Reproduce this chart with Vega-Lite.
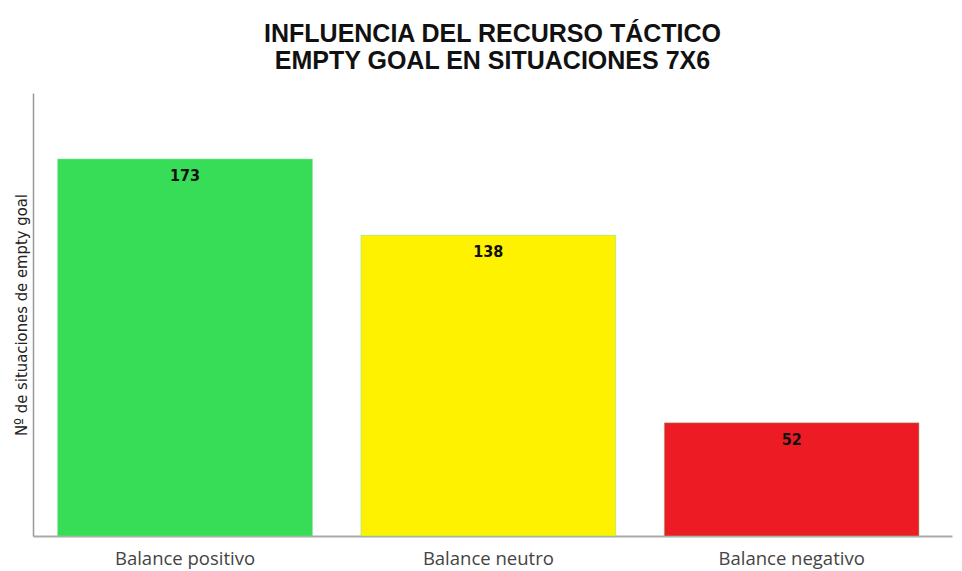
{
  "$schema": "https://vega.github.io/schema/vega-lite/v6.json",
  "width": 919,
  "height": 443,
  "autosize": "none",
  "padding": {"left": 33, "top": 93, "right": 10, "bottom": 35},
  "background": "white",
  "config": {"view": {"stroke": null}},
  "title": {
    "text": ["INFLUENCIA DEL RECURSO TÁCTICO", "EMPTY GOAL EN SITUACIONES 7X6"],
    "font": "Liberation Sans",
    "fontSize": 25,
    "fontWeight": "bold",
    "color": "#111111",
    "anchor": "middle",
    "lineHeight": 27,
    "offset": 19
  },
  "data": {
    "values": [
      {"categoria": "Balance positivo", "valor": 173},
      {"categoria": "Balance neutro", "valor": 138},
      {"categoria": "Balance negativo", "valor": 52}
    ]
  },
  "encoding": {
    "x": {
      "field": "categoria",
      "type": "nominal",
      "sort": null,
      "scale": {"paddingInner": 0.16, "paddingOuter": 0.095, "align": 0.428},
      "axis": {
        "title": null,
        "labelAngle": 0,
        "labelFont": "Open Sans",
        "labelFontSize": 18.5,
        "labelColor": "#444444",
        "labelPadding": 13,
        "ticks": false,
        "domainColor": "#aaaaaa",
        "domainWidth": 2
      }
    },
    "y": {
      "field": "valor",
      "type": "quantitative",
      "scale": {"domain": [0, 203.3], "nice": false},
      "axis": {
        "title": "Nº de situaciones de empty goal",
        "titleFont": "DejaVu Sans Condensed, Liberation Sans",
        "titleFontSize": 16.5,
        "titleFontWeight": "normal",
        "titleColor": "#222222",
        "titlePadding": 4,
        "labels": false,
        "ticks": false,
        "grid": false,
        "domainColor": "#999999",
        "domainWidth": 1.5
      }
    }
  },
  "layer": [
    {
      "mark": {"type": "bar", "stroke": "#7fe08f", "strokeWidth": 0.5},
      "encoding": {
        "color": {
          "field": "categoria",
          "type": "nominal",
          "scale": {
            "domain": ["Balance positivo", "Balance neutro", "Balance negativo"],
            "range": ["#37dc57", "#fff200", "#ed1c24"]
          },
          "legend": null
        }
      }
    },
    {
      "mark": {
        "type": "text",
        "baseline": "top",
        "dy": 9,
        "font": "DejaVu Sans Condensed, Liberation Sans",
        "fontSize": 16,
        "fontWeight": "bold",
        "color": "#111111"
      },
      "encoding": {"text": {"field": "valor", "type": "quantitative"}}
    }
  ]
}
